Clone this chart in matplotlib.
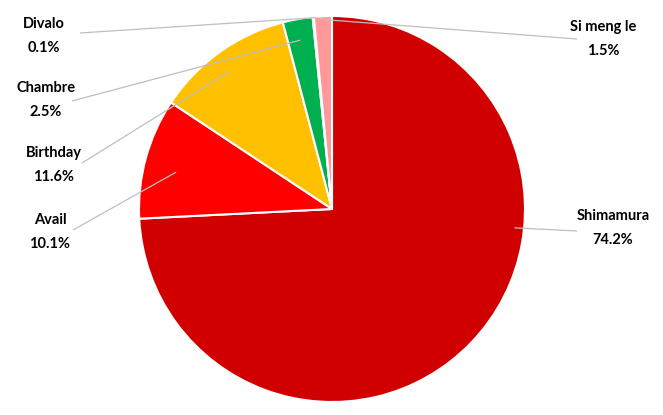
import numpy as np
import matplotlib
matplotlib.use("Agg")
import matplotlib.pyplot as plt

# ---- data ----
categories = ["Shimamura", "Avail", "Birthday", "Chambre", "Divalo", "Si meng le"]
values = [74.2, 10.1, 11.6, 2.5, 0.1, 1.5]
pct_labels = ["74.2%", "10.1%", "11.6%", "2.5%", "0.1%", "1.5%"]
colors = ["#D00000", "#FF0000", "#FFC000", "#00B050", "#7F7F7F", "#FF9999"]

# ---- layout (pixel coordinates, y measured from top) ----
W, H = 663, 415
center_px = (332, 209)
radius_px = 193
# label text center (name line), leader start (text side), anchor (angle deg, r fraction)
label_pos = {
    "Shimamura": (613, 216),
    "Avail": (50, 220),
    "Birthday": (54, 153),
    "Chambre": (46, 88),
    "Divalo": (44, 24),
    "Si meng le": (603, 27),
}
leader_start = {
    "Shimamura": (577, 231),
    "Avail": (73, 230),
    "Birthday": (82, 163),
    "Chambre": (72, 101),
    "Divalo": (80, 33),
    "Si meng le": (577, 39),
}
anchor = {
    "Shimamura": (-5.9, 0.95),
    "Avail": (166.7, 0.83),
    "Birthday": (127.0, 0.89),
    "Chambre": (100.7, 0.89),
    "Divalo": (94.8, 0.995),
    "Si meng le": (93.6, 0.985),
}

plt.rcParams['font.family'] = ['Lato', 'DejaVu Sans']

fig = plt.figure(figsize=(W / 100, H / 100), dpi=100)
ax = fig.add_axes([0, 0, 1, 1])
ax.set_xlim(0, W)
ax.set_ylim(0, H)
ax.set_aspect('equal')
ax.axis('off')

cx, cy = center_px[0], H - center_px[1]
wedges, _ = ax.pie(values, colors=colors, startangle=90, counterclock=False,
                   center=(cx, cy), radius=radius_px,
                   wedgeprops=dict(edgecolor='white', linewidth=1.5))
ax.set_xlim(0, W)
ax.set_ylim(0, H)

for name, pct in zip(categories, pct_labels):
    tx, ty = label_pos[name]
    ax.text(tx, H - ty, name, ha='center', va='center', fontsize=10.5,
            fontweight='bold', color='#000000')
    ax.text(tx, H - ty - 24, pct, ha='center', va='center', fontsize=10.5,
            fontweight='bold', color='#000000')
    ang, rf = anchor[name]
    ax_x = cx + np.cos(np.radians(ang)) * radius_px * rf
    ax_y = cy + np.sin(np.radians(ang)) * radius_px * rf
    sx, sy = leader_start[name]
    ax.plot([sx, ax_x], [H - sy, ax_y], color='#BFBFBF', linewidth=0.9,
            solid_capstyle='butt', zorder=5)

fig.savefig("out.png", dpi=100, facecolor='white')
